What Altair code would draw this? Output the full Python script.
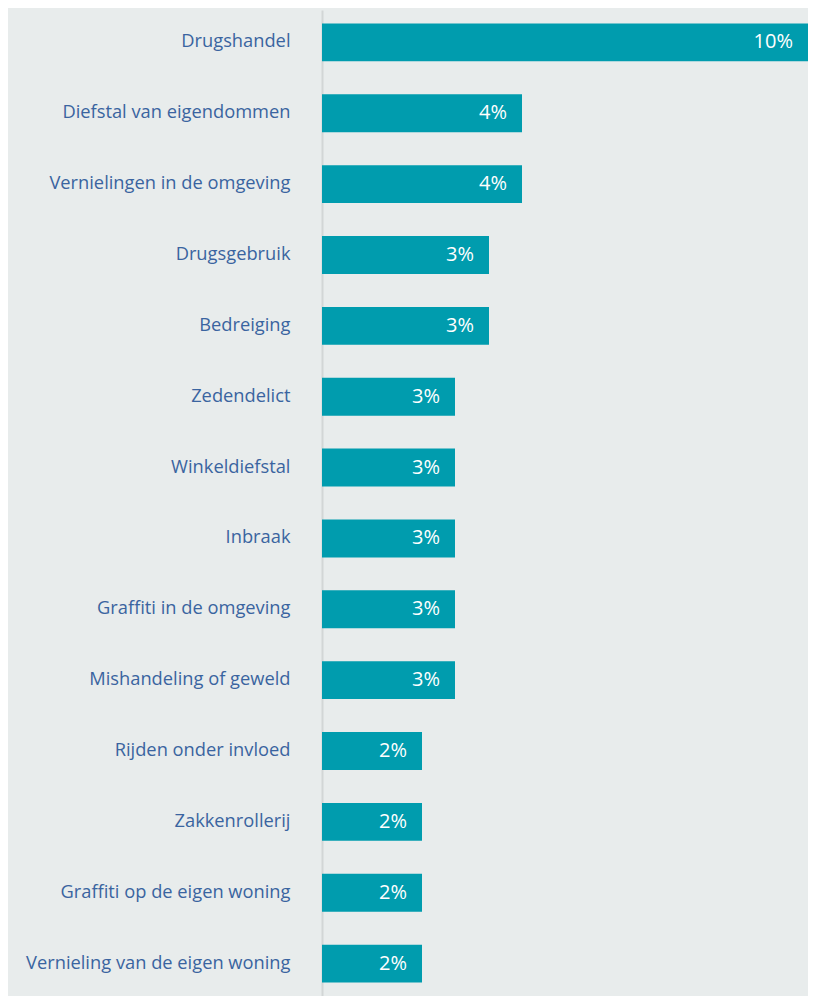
import altair as alt
import pandas as pd

categories = [
    "Drugshandel",
    "Diefstal van eigendommen",
    "Vernielingen in de omgeving",
    "Drugsgebruik",
    "Bedreiging",
    "Zedendelict",
    "Winkeldiefstal",
    "Inbraak",
    "Graffiti in de omgeving",
    "Mishandeling of geweld",
    "Rijden onder invloed",
    "Zakkenrollerij",
    "Graffiti op de eigen woning",
    "Vernieling van de eigen woning",
]
values = [9.88, 4.0, 4.0, 3.34, 3.34, 2.66, 2.66, 2.66, 2.66, 2.66, 2.0, 2.0, 2.0, 2.0]
labels = ["10%", "4%", "4%", "3%", "3%", "3%", "3%", "3%", "3%", "3%", "2%", "2%", "2%", "2%"]

df = pd.DataFrame({"cat": categories, "val": values, "lab": labels})

XMAX = 9.72

y = alt.Y(
    "cat:N",
    sort=categories,
    title=None,
    scale=alt.Scale(paddingInner=0.465, paddingOuter=0.19),
    axis=alt.Axis(
        ticks=False,
        labelFont="Open Sans",
        labelFontSize=18.3,
        labelColor="#3a64a0",
        labelPadding=32,
        labelLimit=320,
        domainColor="#d2d6d6",
        domainWidth=2,
        minExtent=314,
        maxExtent=314,
    ),
)
x = alt.X(
    "val:Q",
    title=None,
    scale=alt.Scale(domain=[0, XMAX], nice=False, zero=True),
    axis=None,
)

bars = alt.Chart(df).mark_bar(color="#009cae", clip=True).encode(x=x, y=y)

text = (
    alt.Chart(df)
    .transform_calculate(tx=f"min(datum.val, {XMAX})")
    .mark_text(align="right", baseline="middle", dx=-15, color="white",
               font="Open Sans", fontSize=20)
    .encode(x=alt.X("tx:Q", scale=alt.Scale(domain=[0, XMAX], nice=False), axis=None),
            y=y, text="lab:N")
)

chart = (
    alt.layer(bars, text)
    .properties(width=486, height=986, padding={"left": 0, "top": 2, "right": 0, "bottom": 0},
                background="#e8ecec")
    .configure_view(stroke=None)
)

chart.save("out.html", embed_options={"renderer": "svg", "actions": False})
